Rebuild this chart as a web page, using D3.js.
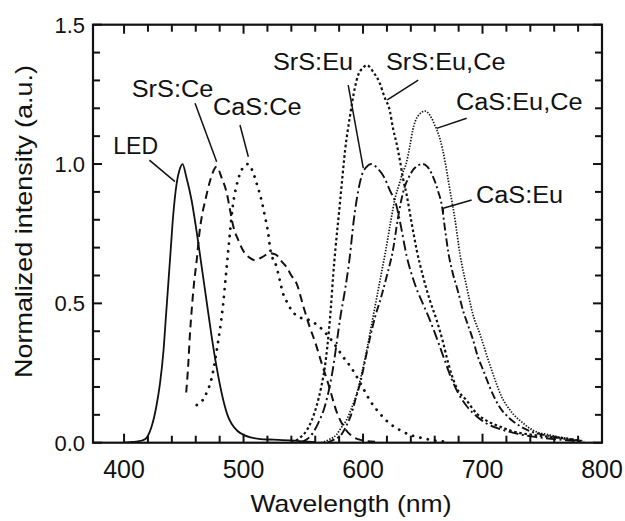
<!DOCTYPE html>
<html><head><meta charset="utf-8">
<script src="https://cdn.jsdelivr.net/npm/d3@7"></script>
<style>
html,body{margin:0;padding:0;background:#fff;}
svg{display:block;font-family:"Liberation Sans",Arial,Helvetica,sans-serif;}
</style>
</head><body>
<svg id="chart" width="625" height="521"></svg>
<script>
// ---- data: [wavelength (nm), normalized intensity] ----
const ledSpectrum = [[400,0],[405,0.002],[410,0.004],[414,0.007],[417.5,0.012],[420,0.025],[423,0.057],[427,0.13],[430,0.21],[433,0.33],[435,0.45],[437,0.57],[439,0.69],[441,0.81],[444,0.93],[446.5,0.98],[449,1.0],[452,0.955],[456.5,0.87],[461,0.75],[465,0.63],[469,0.51],[473,0.39],[477.5,0.27],[483,0.153],[486.5,0.1],[490,0.068],[495,0.042],[500,0.028],[507,0.018],[514,0.013],[525,0.011],[540,0.008],[550,0.005],[560,0.002]];
const srsCeSpectrum = [[452,0.18],[453.8,0.286],[455,0.38],[456.6,0.476],[458.5,0.57],[460.8,0.655],[463,0.75],[465,0.81],[468,0.87],[472,0.94],[477.5,0.99],[481.7,0.95],[486,0.895],[488.7,0.835],[491.5,0.775],[495.6,0.727],[501,0.68],[505,0.664],[509.6,0.655],[516,0.667],[522,0.68],[527,0.675],[532,0.65],[536,0.63],[540,0.6],[544.5,0.57],[550,0.49],[555,0.42],[560,0.36],[565,0.29],[571,0.21],[578,0.11],[585,0.05],[592,0.02],[600,0.008],[610,0.003]];
const casCeSpectrum = [[460.8,0.135],[464,0.145],[467.7,0.165],[470,0.19],[472,0.21],[474.7,0.26],[477.5,0.33],[481,0.43],[483,0.5],[485,0.59],[487,0.68],[489,0.77],[491,0.85],[494,0.92],[497,0.965],[500,0.99],[504,1.0],[507,0.98],[511,0.93],[515,0.87],[518,0.81],[520.7,0.75],[522.5,0.69],[527.7,0.63],[530.5,0.58],[533,0.536],[537,0.5],[540,0.476],[547,0.45],[555,0.44],[565,0.41],[575,0.36],[583,0.31],[590,0.27],[597,0.22],[606,0.15],[614,0.105],[622,0.07],[631,0.045],[640,0.027],[650,0.016],[660,0.008],[670,0.003]];
const srsEuSpectrum = [[548,0],[553,0.012],[558,0.035],[563,0.075],[568,0.13],[572,0.2],[575,0.27],[578,0.36],[581,0.45],[585,0.55],[589,0.67],[592,0.79],[595,0.88],[599,0.96],[603,0.99],[607,1.0],[612,0.985],[618,0.95],[622,0.91],[628,0.85],[632,0.77],[636.5,0.67],[641,0.6],[645,0.55],[650,0.5],[656,0.44],[663,0.36],[668,0.3],[674,0.23],[680,0.175],[687,0.13],[695,0.095],[703,0.07],[714,0.05],[726,0.035],[742,0.022],[760,0.013],[775,0.007],[785,0.003]];
const srsEuCeSpectrum = [[540,0],[547,0.017],[553,0.045],[557,0.08],[561,0.13],[565,0.2],[568,0.27],[570,0.34],[573,0.48],[575,0.6],[577,0.7],[580,0.83],[582,0.92],[585,1.05],[589,1.17],[593,1.27],[596,1.32],[600,1.345],[603,1.355],[608.6,1.33],[614,1.29],[618,1.24],[622.5,1.19],[625,1.13],[628,1.075],[631,1.01],[633.4,0.95],[636.5,0.89],[640.6,0.79],[645,0.69],[650,0.6],[656,0.51],[661.6,0.44],[667,0.36],[671,0.29],[678,0.2],[687,0.15],[695,0.105],[703,0.08],[715,0.057],[726,0.04],[742,0.028],[759,0.02],[770,0.015],[780,0.008]];
const casEuSpectrum = [[570,0],[576,0.012],[582,0.03],[586,0.06],[590,0.1],[594,0.16],[598,0.22],[602,0.3],[606,0.38],[610,0.45],[615,0.52],[620,0.6],[625,0.69],[629,0.8],[632,0.87],[635,0.92],[638,0.95],[642,0.98],[646,0.995],[650,1.0],[654,0.99],[658,0.96],[663,0.9],[666,0.85],[668.5,0.77],[671.5,0.68],[675,0.61],[679,0.55],[684,0.47],[688,0.42],[692,0.37],[696,0.31],[700.6,0.26],[707,0.19],[714,0.13],[722,0.09],[732,0.058],[742,0.038],[756,0.024],[770,0.013],[785,0.005]];
const casEuCeSpectrum = [[565,0],[572,0.012],[578,0.03],[582,0.055],[586,0.08],[590,0.12],[595,0.18],[599,0.25],[603,0.33],[607,0.42],[611,0.51],[615,0.6],[619,0.69],[623,0.79],[627,0.88],[630.5,0.93],[633,0.967],[636,1.0],[639,1.06],[641.5,1.12],[645.6,1.17],[652,1.19],[656,1.175],[660,1.14],[664.4,1.09],[668.6,1.01],[671.4,0.94],[673,0.9],[677,0.8],[681,0.68],[686.7,0.56],[692,0.46],[697.8,0.39],[704.8,0.297],[711.8,0.21],[716,0.165],[723,0.117],[734,0.07],[742,0.045],[756,0.028],[770,0.016],[785,0.006]];

const seriesNames = ["LED","SrS:Ce","CaS:Ce","SrS:Eu","SrS:Eu,Ce","CaS:Eu,Ce","CaS:Eu"];
const seriesData  = [ledSpectrum, srsCeSpectrum, casCeSpectrum, srsEuSpectrum, srsEuCeSpectrum, casEuCeSpectrum, casEuSpectrum];

const xTickValues = [400,500,600,700,800];
const xTickLabels = ["400","500","600","700","800"];
const yTickValues = [0,0.5,1.0,1.5];
const yTickLabels = ["0.0","0.5","1.0","1.5"];
const xMinorTickValues = [420,440,460,480,520,540,560,580,620,640,660,680,720,740,760,780];
const yMinorTickValues = [0.1,0.2,0.3,0.4,0.6,0.7,0.8,0.9,1.1,1.2,1.3,1.4];
const xDomain = [374,800];
const yDomain = [0,1.5];
const xTitle = "Wavelength (nm)";
const yTitle = "Normalized intensity (a.u.)";

// label annotations in data coordinates: text anchor, leader start, leader end
const labelText   = ["LED","SrS:Ce","CaS:Ce","SrS:Eu","SrS:Eu,Ce","CaS:Eu,Ce","CaS:Eu"];
const labelAnchor = [[391,1.036],[406.4,1.241],[474.4,1.176],[524.6,1.337],[619.2,1.337],[677.8,1.194],[694.5,0.859]];
const leaderFrom  = [[421.2,1.014],[459.4,1.218],[497,1.14],[587.6,1.283],[646.2,1.301],[686.7,1.164],[690.9,0.871]];
const leaderTo    = [[442.6,0.937],[477.5,1.008],[504,1.026],[600.2,0.985],[620.3,1.23],[661.6,1.128],[667.1,0.841]];

// ---- styles ----
const styles = {
  "LED":        {dash:null,            width:1.8, cap:"butt"},
  "SrS:Ce":     {dash:"8,5",           width:2.0, cap:"butt"},
  "CaS:Ce":     {dash:"0.1,7.5",       width:2.8, cap:"round"},
  "SrS:Eu":     {dash:"10,3.5,2,3.5",  width:1.9, cap:"butt"},
  "SrS:Eu,Ce":  {dash:"2.6,2.6",       width:2.2, cap:"butt"},
  "CaS:Eu,Ce":  {dash:"1.4,1.5",       width:1.7, cap:"butt"},
  "CaS:Eu":     {dash:"8,3,2,3",       width:1.9, cap:"butt"}
};
const ink = "#111";

const svg = d3.select("#chart");
const L = 93, R = 602, T = 24.7, B = 442.7;
const x = d3.scaleLinear().domain(xDomain).range([L, R]);
const y = d3.scaleLinear().domain(yDomain).range([B, T]);

const stretchText = (sel, factor) => sel.each(function(){
  const w = this.getComputedTextLength();
  d3.select(this).attr("textLength", w*factor).attr("lengthAdjust","spacingAndGlyphs");
});

// curves
svg.append("clipPath").attr("id","plotclip").append("rect")
  .attr("x",L).attr("y",T).attr("width",R-L).attr("height",B-T);
const line = d3.line().x(d=>x(d[0])).y(d=>y(d[1])).curve(d3.curveMonotoneX);
const gCurves = svg.append("g").attr("clip-path","url(#plotclip)");
seriesNames.forEach((name,i)=>{
  const s = styles[name];
  gCurves.append("path").datum(seriesData[i])
    .attr("d", line).attr("fill","none").attr("stroke",ink)
    .attr("stroke-width", s.width).attr("stroke-linecap", s.cap)
    .attr("stroke-linejoin","round")
    .attr("stroke-dasharray", s.dash);
});

// inward ticks on all four sides
const gTicks = svg.append("g").attr("stroke",ink).attr("stroke-width",2);
function xTicks(vals, len){
  gTicks.append("g").selectAll("line").data(vals).join("line")
    .attr("x1",d=>x(d)).attr("x2",d=>x(d)).attr("y1",B).attr("y2",B-len);
  gTicks.append("g").selectAll("line").data(vals).join("line")
    .attr("x1",d=>x(d)).attr("x2",d=>x(d)).attr("y1",T).attr("y2",T+len);
}
function yTicks(vals, len){
  gTicks.append("g").selectAll("line").data(vals).join("line")
    .attr("y1",d=>y(d)).attr("y2",d=>y(d)).attr("x1",L).attr("x2",L+len);
  gTicks.append("g").selectAll("line").data(vals).join("line")
    .attr("y1",d=>y(d)).attr("y2",d=>y(d)).attr("x1",R).attr("x2",R-len);
}
xTicks(xTickValues, 9); xTicks(xMinorTickValues, 7);
yTicks(yTickValues, 9); yTicks(yMinorTickValues, 7);

// tick labels
svg.append("g").selectAll("text").data(xTickValues).join("text")
  .attr("x",d=>x(d)).attr("y",B+35.3).attr("text-anchor","middle")
  .attr("font-size",25).attr("fill",ink).text((d,i)=>xTickLabels[i]);
svg.append("g").selectAll("text").data(yTickValues).join("text")
  .attr("x",L-8).attr("y",d=>y(d)).attr("dy","0.36em").attr("text-anchor","end")
  .attr("font-size",22).attr("fill",ink).text((d,i)=>yTickLabels[i]);

// frame
svg.append("rect").attr("x",L).attr("y",T).attr("width",R-L).attr("height",B-T)
  .attr("fill","none").attr("stroke",ink).attr("stroke-width",2.2);

// axis titles
svg.append("text").attr("x",351).attr("y",512).attr("text-anchor","middle")
  .attr("font-size",24).attr("fill",ink).text(xTitle)
  .attr("textLength",201).attr("lengthAdjust","spacingAndGlyphs");
svg.append("text").attr("transform","translate(32,221.5) rotate(-90)").attr("text-anchor","middle")
  .attr("font-size",24.5).attr("fill",ink).text(yTitle)
  .attr("textLength",313).attr("lengthAdjust","spacingAndGlyphs");

// labels + leaders
const gLab = svg.append("g");
labelText.forEach((t,i)=>{
  gLab.append("text").attr("x",x(labelAnchor[i][0])).attr("y",y(labelAnchor[i][1]))
    .attr("font-size",23).attr("fill",ink).text(t)
    .call(stretchText, t==="LED"?1.0:1.1);
  gLab.append("line")
    .attr("x1",x(leaderFrom[i][0])).attr("y1",y(leaderFrom[i][1]))
    .attr("x2",x(leaderTo[i][0])).attr("y2",y(leaderTo[i][1]))
    .attr("stroke",ink).attr("stroke-width",1.5);
});
// small hook at the end of the CaS:Eu leader
const hookAt = leaderTo[6];
gLab.append("line").attr("x1",x(hookAt[0])).attr("y1",y(hookAt[1]))
  .attr("x2",x(hookAt[0])).attr("y2",y(hookAt[1]-0.018))
  .attr("stroke",ink).attr("stroke-width",1.5);
</script>
</body></html>
